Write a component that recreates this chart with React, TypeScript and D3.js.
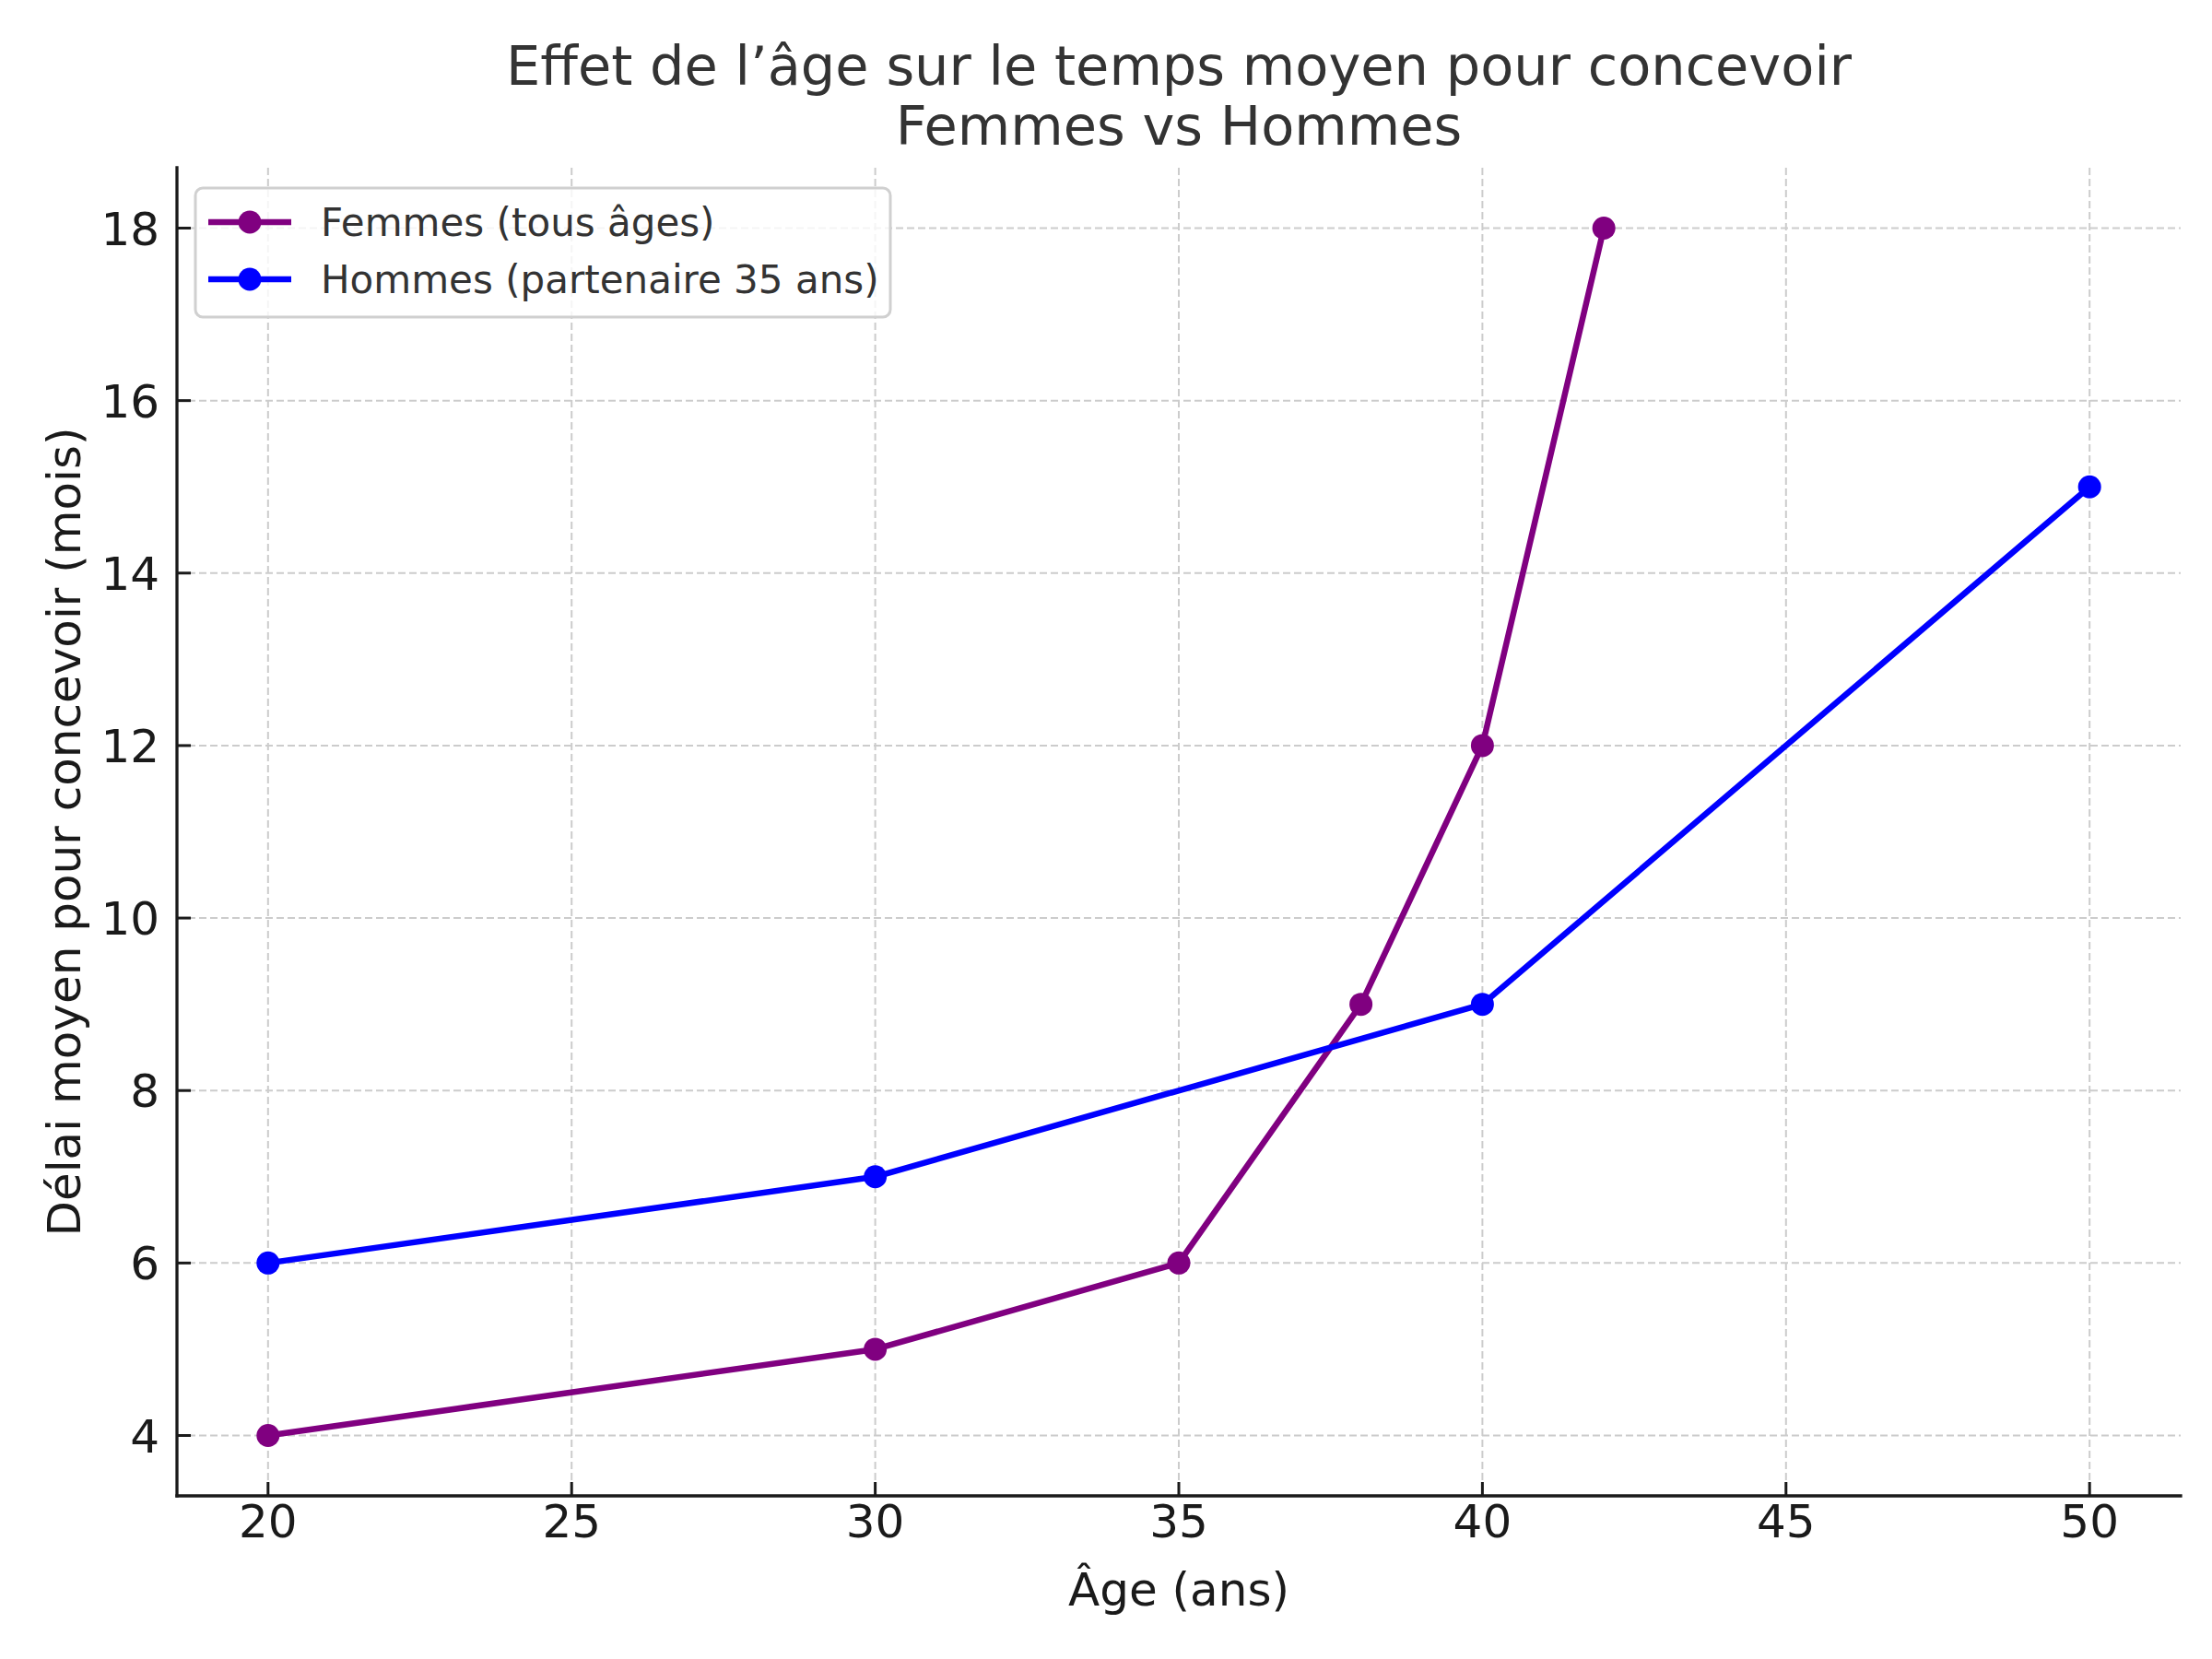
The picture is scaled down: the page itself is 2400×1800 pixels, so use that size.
import React, { useEffect } from 'react';
import * as d3 from 'd3';

// Data
const femmesAges = [20, 30, 35, 38, 40, 42];
const femmesDelai = [4, 5, 6, 9, 12, 18];
const hommesAges = [20, 30, 40, 50];
const hommesDelai = [6, 7, 9, 15];
const xTicks = [20, 25, 30, 35, 40, 45, 50];
const yTicks = [4, 6, 8, 10, 12, 14, 16, 18];

const seriesLabels = ['Femmes (tous âges)', 'Hommes (partenaire 35 ans)'];
const seriesColors = ['#800080', '#0000ff'];

const W = 2400;
const H = 1800;
const FONT = '"DejaVu Sans", sans-serif';

export default function App() {
    useEffect(() => {
        document.body.style.margin = '0';
    }, []);

    const plot = { left: 192, right: 2366, top: 182, bottom: 1623 };

    // matplotlib-style 5% margins
    const x = d3.scaleLinear().domain([18.5, 51.5]).range([plot.left, plot.right]);
    const y = d3.scaleLinear().domain([3.3, 18.7]).range([plot.bottom, plot.top]);

    const line = d3.line<[number, number]>()
        .x(d => x(d[0]))
        .y(d => y(d[1]));

    const series = [
        d3.zip(femmesAges, femmesDelai) as [number, number][],
        d3.zip(hommesAges, hommesDelai) as [number, number][],
    ];

    const legend = { x: 212, y: 204, w: 754, h: 140 };

    return (
        <svg width={W} height={H} viewBox={`0 0 ${W} ${H}`} style={{ display: 'block', background: '#fff' }}>
            {/* Grid */}
            <g stroke="#cccccc" strokeWidth={2} strokeDasharray="8,4">
                {xTicks.map(t => (
                    <line key={`gx${t}`} x1={x(t)} x2={x(t)} y1={plot.top} y2={plot.bottom} />
                ))}
                {yTicks.map(t => (
                    <line key={`gy${t}`} x1={plot.left} x2={plot.right} y1={y(t)} y2={y(t)} />
                ))}
            </g>

            {/* Lines + markers */}
            {series.map((pts, i) => (
                <g key={i}>
                    <path d={line(pts) || ''} fill="none" stroke={seriesColors[i]} strokeWidth={6.5} strokeLinejoin="round" />
                    {pts.map((p, j) => (
                        <circle key={j} cx={x(p[0])} cy={y(p[1])} r={12.5} fill={seriesColors[i]} />
                    ))}
                </g>
            ))}

            {/* Spines */}
            <g stroke="#1a1a1a" strokeWidth={3.3} strokeLinecap="square">
                <line x1={plot.left} x2={plot.left} y1={plot.top} y2={plot.bottom} />
                <line x1={plot.left} x2={plot.right} y1={plot.bottom} y2={plot.bottom} />
            </g>

            {/* X ticks */}
            <g fontFamily={FONT} fontSize={50} fill="#1a1a1a" textAnchor="middle">
                {xTicks.map(t => (
                    <g key={`tx${t}`}>
                        <line x1={x(t)} x2={x(t)} y1={plot.bottom} y2={plot.bottom - 15} stroke="#1a1a1a" strokeWidth={3} />
                        <text x={x(t)} y={1668}>{t}</text>
                    </g>
                ))}
            </g>

            {/* Y ticks */}
            <g fontFamily={FONT} fontSize={50} fill="#1a1a1a" textAnchor="end">
                {yTicks.map(t => (
                    <g key={`ty${t}`}>
                        <line x1={plot.left} x2={plot.left + 15} y1={y(t)} y2={y(t)} stroke="#1a1a1a" strokeWidth={3} />
                        <text x={173} y={y(t) + 18}>{t}</text>
                    </g>
                ))}
            </g>

            {/* Axis labels */}
            <text x={(plot.left + plot.right) / 2} y={1742} textAnchor="middle" fontFamily={FONT} fontSize={50} fill="#1a1a1a">
                Âge (ans)
            </text>
            <text
                transform={`translate(87, ${(plot.top + plot.bottom) / 2}) rotate(-90)`}
                textAnchor="middle" fontFamily={FONT} fontSize={50} fill="#1a1a1a"
            >
                Délai moyen pour concevoir (mois)
            </text>

            {/* Title */}
            <g fontFamily={FONT} fontSize={59} fill="#333333" textAnchor="middle">
                <text x={(plot.left + plot.right) / 2} y={92}>Effet de l’âge sur le temps moyen pour concevoir</text>
                <text x={(plot.left + plot.right) / 2} y={157}>Femmes vs Hommes</text>
            </g>

            {/* Legend */}
            <g>
                <rect x={legend.x} y={legend.y} width={legend.w} height={legend.h} rx={8}
                    fill="#ffffff" fillOpacity={0.8} stroke="#d0d0d0" strokeWidth={3} />
                {seriesLabels.map((lab, i) => {
                    const ry = 241 + i * 62;
                    return (
                        <g key={lab}>
                            <line x1={226} x2={316} y1={ry} y2={ry} stroke={seriesColors[i]} strokeWidth={6.5} />
                            <circle cx={271} cy={ry} r={12.5} fill={seriesColors[i]} />
                            <text x={348} y={ry + 15} fontFamily={FONT} fontSize={42} fill="#333333">{lab}</text>
                        </g>
                    );
                })}
            </g>
        </svg>
    );
}
